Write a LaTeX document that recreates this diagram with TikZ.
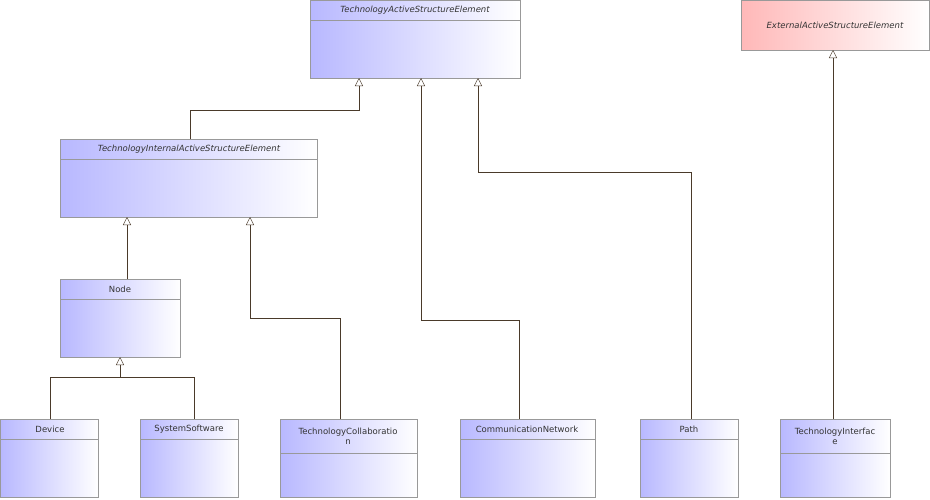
\documentclass[tikz,border=0pt]{standalone}
\usepackage{fontspec}
\setmainfont{DejaVu Sans}
\usetikzlibrary{arrows.meta}
\definecolor{bl}{HTML}{B8B8FF}
\definecolor{rd}{HTML}{FFB8B8}
\definecolor{ln}{HTML}{4A3A2A}
\begin{document}
\begin{tikzpicture}[x=1pt,y=-1pt,
 cls/.style={draw=gray!80,left color=bl,right color=white,shading angle=90},
 ttl/.style={font=\fontsize{8.5}{10}\selectfont,text=black!80},
 gen/.style={draw=ln,-{Triangle[open,length=8pt,width=8pt]},fill=none}]
\useasboundingbox (0,0) rectangle (930,499);
\newcommand\clsbox[6]{% name x1 y1 x2 y2 sepy
 \path[cls] (#2,#3) rectangle (#4,#5);
 \coordinate (#1-nw) at (#2,#3);
 \draw[gray!80] (#2,#6) -- (#4,#6);}
\clsbox{tase}{310}{0.5}{520}{78}{20}
\node[ttl,font=\itshape\fontsize{8.5}{10}\selectfont] (tasel) at (415,10) {TechnologyActiveStructureElement};
\path[draw=gray!80,left color=rd,right color=white] (741,0.5) rectangle (929,50);
\node[ttl,font=\itshape\fontsize{8.5}{10}\selectfont] (easel) at (835,25) {ExternalActiveStructureElement};
\clsbox{tiase}{60}{139}{317}{217}{159}
\node[ttl,font=\itshape\fontsize{8.5}{10}\selectfont] (tiasel) at (189,149) {TechnologyInternalActiveStructureElement};
\clsbox{node}{60}{279}{180}{357}{299}
\node[ttl] (nodel) at (120,289) {Node};
\clsbox{dev}{0.5}{419}{98}{497}{439}
\node[ttl] (devl) at (50,429) {Device};
\clsbox{sys}{140}{419}{238}{497}{439}
\node[ttl] (sysl) at (189,429) {SystemSoftware};
\clsbox{tc}{280}{419}{417}{497}{453}
\node[ttl,align=center] (tcl) at (348,436) {TechnologyCollaboratio\\n};
\clsbox{cn}{460}{419}{595}{497}{439}
\node[ttl] (cnl) at (527,429) {CommunicationNetwork};
\clsbox{pa}{640}{419}{738}{497}{439}
\node[ttl] (pal) at (689,429) {Path};
\clsbox{ti}{780}{419}{890}{497}{453}
\node[ttl,align=center] (til) at (835,436) {TechnologyInterfac\\e};
\draw[gen] (190,139) -- (190,110) -- (359,110) -- (359,78);
\draw[gen] (127,279) -- (127,217);
\draw[draw=ln] (50,419) -- (50,377) -- (194,377) -- (194,419);
\draw[gen] (120,377) -- (120,357);
\draw[gen] (340,419) -- (340,318) -- (250,318) -- (250,217);
\draw[gen] (519,419) -- (519,320) -- (421,320) -- (421,78);
\draw[gen] (691,419) -- (691,172) -- (478,172) -- (478,78);
\draw[gen] (833,419) -- (833,50);
\end{tikzpicture}
\end{document}
